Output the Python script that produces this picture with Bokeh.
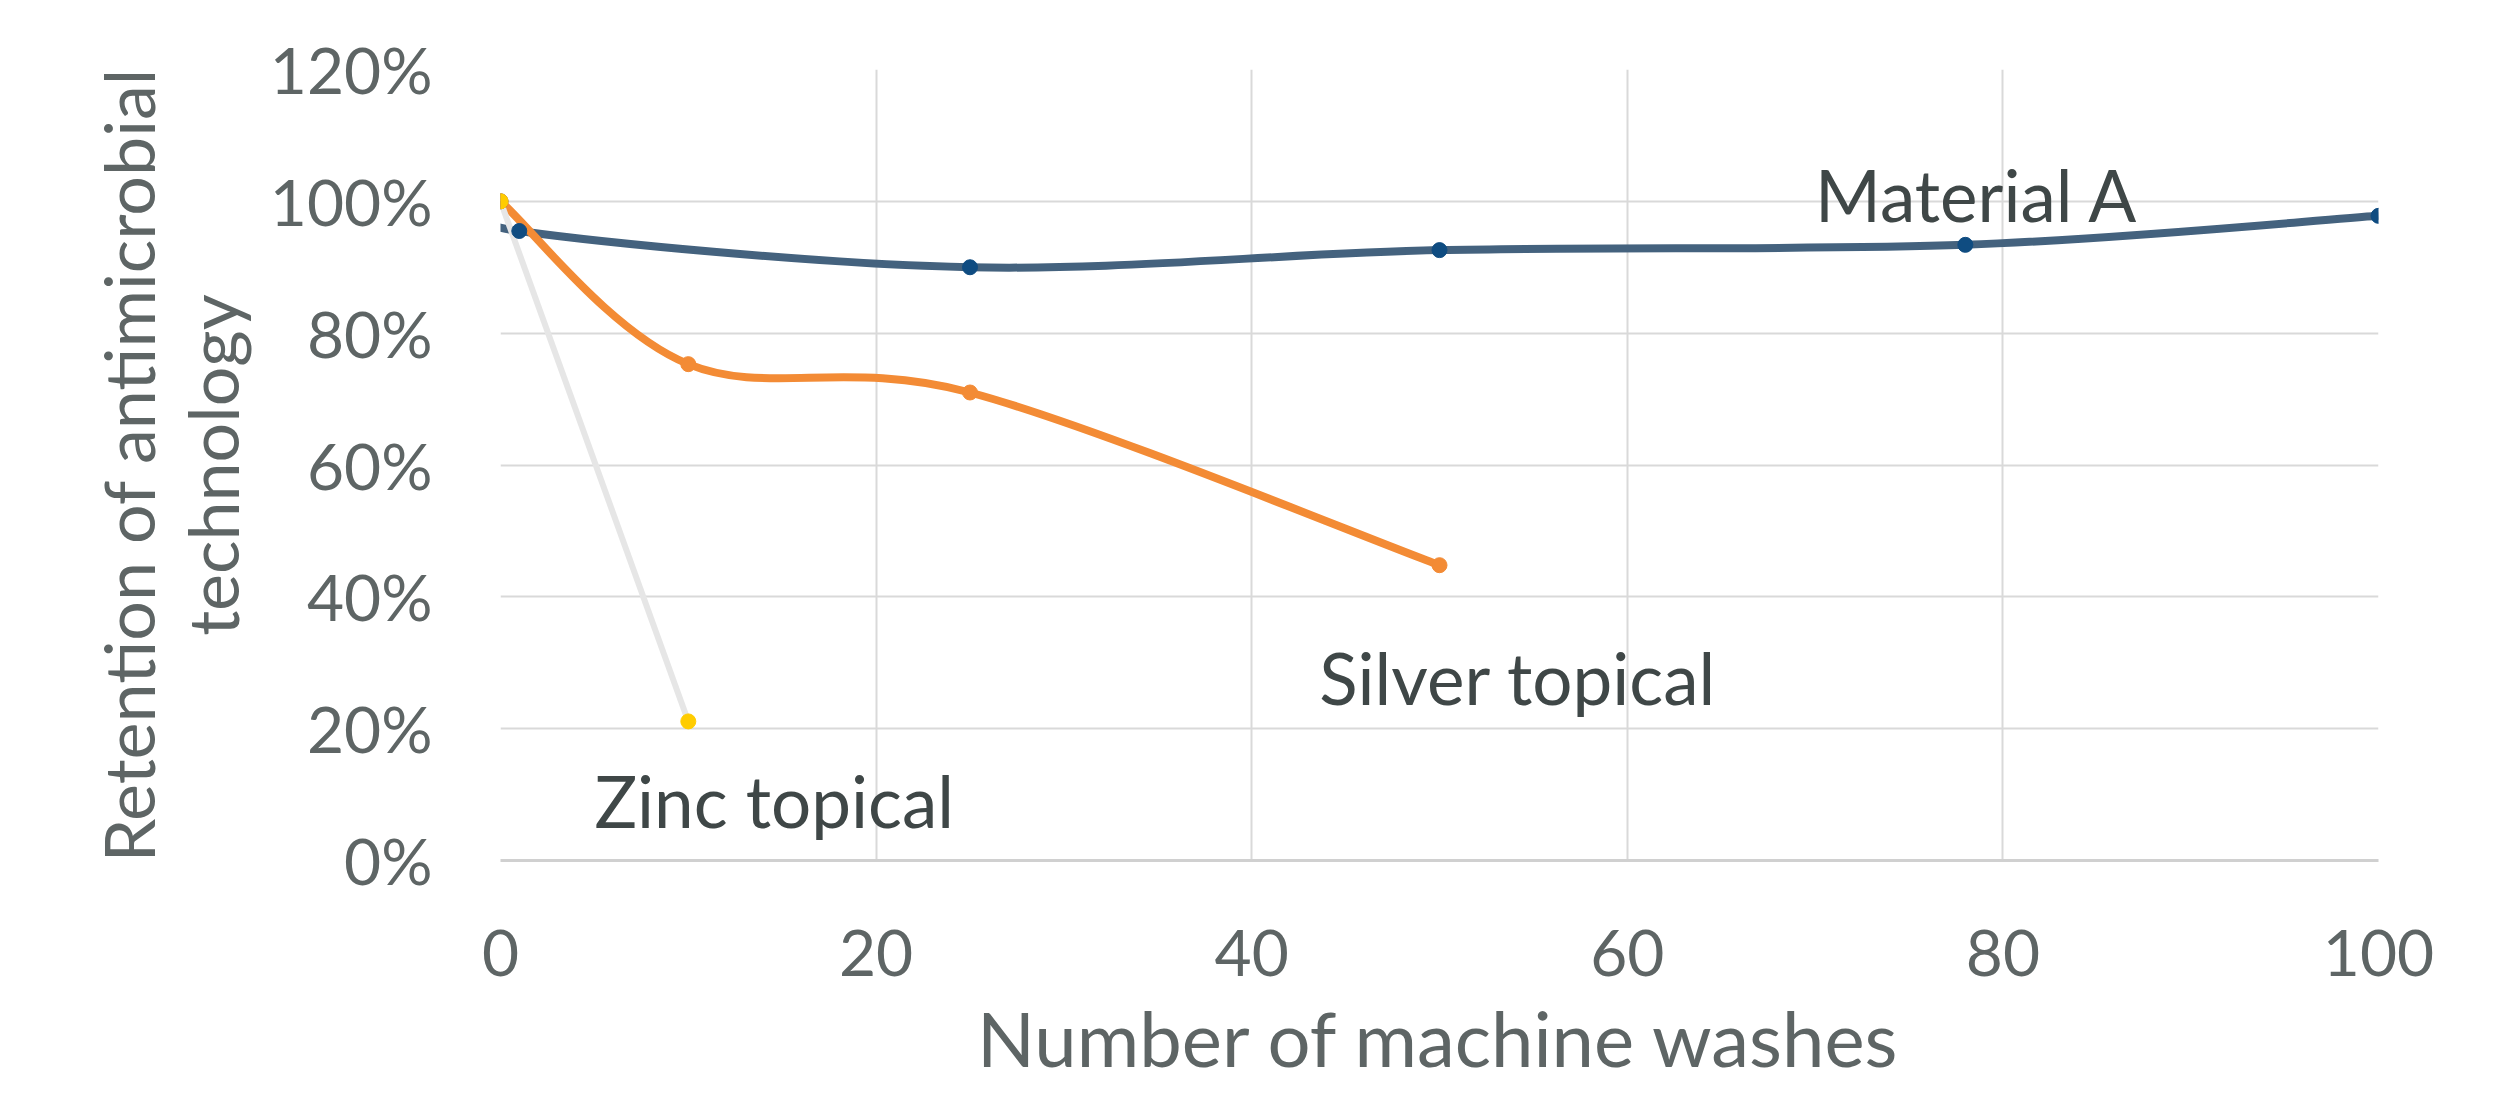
from bokeh.plotting import figure
from bokeh.models import Label, NumeralTickFormatter, FixedTicker, Range1d
from bokeh.embed import file_html
from bokeh.resources import INLINE

# ---- data ----
mat_a_x = [0, 1, 25, 50, 78, 100]
mat_a_y = [1.00, 0.955, 0.90, 0.926, 0.934, 0.978]
silver_x = [0, 10, 25, 50]
silver_y = [1.00, 0.753, 0.710, 0.448]
zinc_x = [0, 10]
zinc_y = [1.00, 0.211]
x_ticks = [0, 20, 40, 60, 80, 100]
y_ticks = [0, 0.2, 0.4, 0.6, 0.8, 1.0, 1.2]
x_title = "Number of machine washes"
y_title = "Retention of antimicrobial\ntechnology"

FONT = "Lato"
AXIS_COL = "#5E6565"
ANN_COL = "#3F4747"


def smooth_segments(xs, ys):
    """Catmull-Rom style bezier segments (Excel 'smoothed line')."""
    n = len(xs)
    out = dict(x0=[], y0=[], x1=[], y1=[], cx0=[], cy0=[], cx1=[], cy1=[])
    for i in range(n - 1):
        p0 = (xs[max(i - 1, 0)], ys[max(i - 1, 0)])
        p1 = (xs[i], ys[i])
        p2 = (xs[i + 1], ys[i + 1])
        p3 = (xs[min(i + 2, n - 1)], ys[min(i + 2, n - 1)])
        out["x0"].append(p1[0]); out["y0"].append(p1[1])
        out["x1"].append(p2[0]); out["y1"].append(p2[1])
        out["cx0"].append(p1[0] + (p2[0] - p0[0]) / 6.0)
        out["cy0"].append(p1[1] + (p2[1] - p0[1]) / 6.0)
        out["cx1"].append(p2[0] - (p3[0] - p1[0]) / 6.0)
        out["cy1"].append(p2[1] - (p3[1] - p1[1]) / 6.0)
    return out


p = figure(width=2504, height=1085, output_backend="svg", toolbar_location=None,
           x_range=Range1d(0, 100), y_range=Range1d(0, 1.2),
           min_border_left=500, min_border_right=126, min_border_top=69, min_border_bottom=222)
p.outline_line_color = None
p.background_fill_color = "white"
p.border_fill_color = "white"

p.xaxis.ticker = FixedTicker(ticks=x_ticks)
p.yaxis.ticker = FixedTicker(ticks=y_ticks)
p.yaxis.formatter = NumeralTickFormatter(format="0%")
p.xgrid.ticker = FixedTicker(ticks=x_ticks)
p.ygrid.ticker = FixedTicker(ticks=y_ticks)
for g in (p.xgrid, p.ygrid):
    g.grid_line_color = "#D9D9D9"
    g.grid_line_width = 2

for ax in (p.xaxis, p.yaxis):
    ax.major_tick_line_color = None
    ax.minor_tick_line_color = None
    ax.major_label_text_font = FONT
    ax.major_label_text_color = AXIS_COL
    ax.major_label_text_font_size = "64px"
    ax.axis_label_text_font = FONT
    ax.axis_label_text_color = AXIS_COL
    ax.axis_label_text_font_style = "normal"

p.yaxis.axis_line_color = None
p.xaxis.axis_line_color = "#D0D0D0"
p.xaxis.axis_line_width = 3
p.yaxis.major_label_standoff = 62
p.xaxis.major_label_standoff = 63

p.xaxis.axis_label = x_title
p.xaxis.axis_label_text_font_size = "76px"
p.xaxis.axis_label_standoff = 13
p.yaxis.axis_label = y_title
p.yaxis.axis_label_text_font_size = "70px"
p.yaxis.axis_label_text_line_height = 1.0
p.yaxis.axis_label_standoff = 13

# lines
s = smooth_segments(mat_a_x, mat_a_y)
p.bezier(**s, line_color="#44627E", line_width=8)
s = smooth_segments(silver_x, silver_y)
p.bezier(**s, line_color="#F38B35", line_width=8)
p.line(zinc_x, zinc_y, line_color="#E6E6E6", line_width=6)

# markers
p.scatter(mat_a_x, mat_a_y, size=15, fill_color="#0F4C81", line_color="#0F4C81")
p.scatter(silver_x, silver_y, size=15, fill_color="#F38B35", line_color="#F38B35")
p.scatter(zinc_x, zinc_y, size=15, fill_color="#FFCC00", line_color="#FFCC00")

# series annotations
for txt, x, y in [("Material A", 70, 1.01), ("Silver topical", 43.6, 0.278), ("Zinc topical", 5.0, 0.091)]:
    p.add_layout(Label(x=x, y=y, text=txt, text_font=FONT, text_font_size="71px",
                       text_color=ANN_COL, text_baseline="alphabetic", text_align="left"))

open("out.html", "w").write(file_html(p, INLINE))
